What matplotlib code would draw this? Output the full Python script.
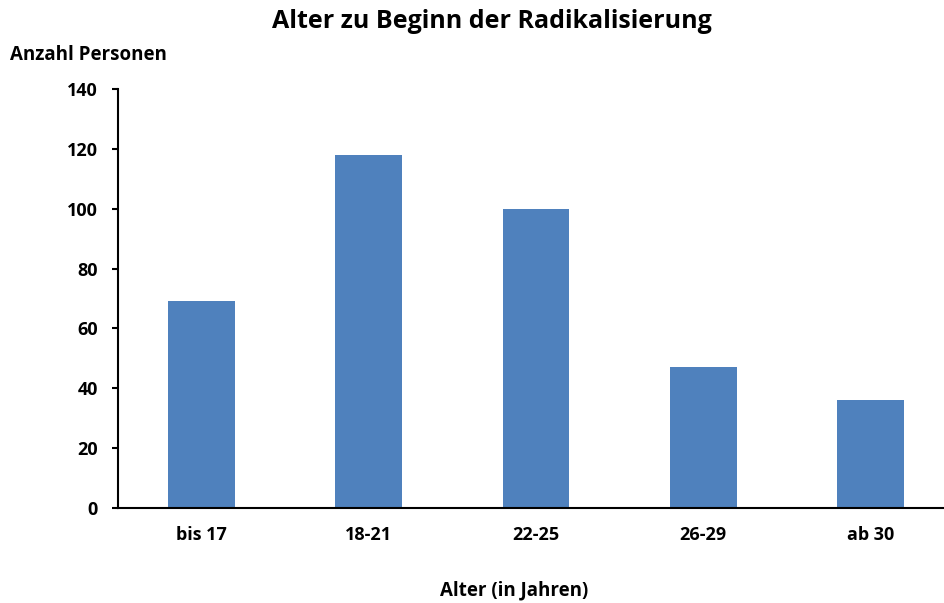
import matplotlib.pyplot as plt

categories = ['bis 17', '18-21', '22-25', '26-29', 'ab 30']
counts = [69, 118, 100, 47, 36]

plt.rcParams['font.family'] = ['Open Sans', 'DejaVu Sans']

fig = plt.figure(figsize=(9.44, 6.03), dpi=100)
ax = fig.add_axes([118 / 944, 1 - 508 / 603, 1 - 118 / 944, (508 - 89) / 603])

ax.bar(range(len(categories)), counts, width=0.4, color='#4F81BD')

ax.set_xlim(-0.5, 4.44)
ax.set_ylim(0, 140)
ax.set_yticks(range(0, 141, 20))
ax.set_xticks(range(len(categories)))
ax.set_xticklabels(categories)

for side in ['top', 'right']:
    ax.spines[side].set_visible(False)
for side in ['left', 'bottom']:
    ax.spines[side].set_linewidth(1.5)
ax.tick_params(axis='x', length=0, pad=13, labelsize=13)
ax.tick_params(axis='y', length=4.5, width=1.5, pad=10, labelsize=13)
for lbl in ax.get_xticklabels() + ax.get_yticklabels():
    lbl.set_fontweight('bold')

fig.text(492 / 944, 1 - 22 / 603, 'Alter zu Beginn der Radikalisierung',
         ha='center', va='center', fontsize=18, fontweight='bold')
fig.text(10 / 944, 1 - 55 / 603, 'Anzahl Personen',
         ha='left', va='center', fontsize=13.5, fontweight='bold')
fig.text(514 / 944, 1 - 590 / 603, 'Alter (in Jahren)',
         ha='center', va='center', fontsize=13.5, fontweight='bold')

fig.savefig('out.png', dpi=100)
